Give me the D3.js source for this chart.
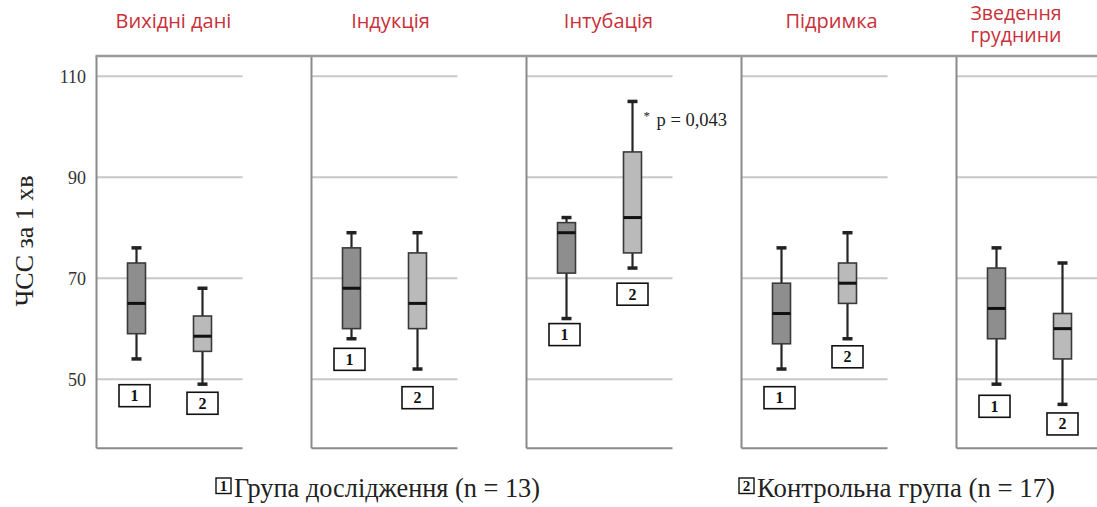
<!DOCTYPE html>
<html>
<head>
<meta charset="utf-8">
<script src="https://cdn.jsdelivr.net/npm/d3@7"></script>
<style>
  html, body { margin: 0; padding: 0; background: #fff; }
  svg { display: block; }
</style>
</head>
<body>
<svg id="chart" width="1097" height="507"></svg>
<script>
// Heart rate (beats per minute) by surgical stage, two patient groups
const phases = ["Вихідні дані", "Індукція", "Інтубація", "Підримка", "Зведення груднини"];
const phaseLines = [["Вихідні дані"], ["Індукція"], ["Інтубація"], ["Підримка"], ["Зведення", "груднини"]];
const groupIds = ["1", "2"];
const groupNames = ["Група дослідження (n = 13)", "Контрольна група (n = 17)"];

// [min, Q1, median, Q3, max] for each stage
const studyStats = [
  [54, 59, 65, 73, 76],
  [58, 60, 68, 76, 79],
  [62, 71, 79, 81, 82],
  [52, 57, 63, 69, 76],
  [49, 58, 64, 72, 76]
];
const controlStats = [
  [49, 55.5, 58.5, 62.5, 68],
  [52, 60, 65, 75, 79],
  [72, 75, 82, 95, 105],
  [58, 65, 69, 73, 79],
  [45, 54, 60, 63, 73]
];
const yTicks = [50, 70, 90, 110];
const yTitle = "ЧСС за 1 хв";
const pNote = { phase: 2, group: 1, text: "p = 0,043" };

// layout: level (in bpm) at which each group tag sits under its box
const tagLevel = [
  [48.9, 56.1, 61, 48.5, 46.8],
  [47.4, 48.5, 69, 56.6, 43.3]
];
const titleCenters = [173.5, 390.5, 608.5, 831.5, 1016];

const svg = d3.select("#chart");
const serif = "'Liberation Serif', 'Times New Roman', serif";

const panelW = 146;
const x = d3.scaleBand().domain(phases).range([96.5, 96.5 + 215 * 5]).padding(0);
const xg = d3.scalePoint().domain(groupIds).range([40, 106]);
const y = d3.scaleLinear().domain([36.3, 114]).range([448.3, 56]);

const fills = ["#8e8e8e", "#bababa"];
const stats = [studyStats, controlStats];

// panels: gridlines, left rule and base rule
const panel = svg.selectAll("g.panel").data(phases).join("g")
  .attr("class", "panel")
  .attr("transform", d => `translate(${x(d)},0)`);

panel.selectAll("line.grid").data(yTicks).join("line")
  .attr("class", "grid")
  .attr("x1", 0).attr("x2", panelW)
  .attr("y1", d => y(d)).attr("y2", d => y(d))
  .attr("stroke", "#c8c8c8").attr("stroke-width", 2);

panel.append("line")
  .attr("x1", 0).attr("x2", 0)
  .attr("y1", y.range()[1]).attr("y2", y.range()[0])
  .attr("stroke", "#8a8a8a").attr("stroke-width", 2);

panel.append("line")
  .attr("x1", 0).attr("x2", panelW)
  .attr("y1", y.range()[0]).attr("y2", y.range()[0])
  .attr("stroke", "#8a8a8a").attr("stroke-width", 2);

svg.append("line")
  .attr("x1", x.range()[0] - 1).attr("x2", 1097)
  .attr("y1", y.range()[1]).attr("y2", y.range()[1])
  .attr("stroke", "#9a9a9a").attr("stroke-width", 2.5);

// y axis labels
const yAxis = d3.axisLeft(y).tickValues(yTicks).tickSize(0).tickPadding(0);
const ya = svg.append("g").attr("transform", "translate(86,0)").call(yAxis);
ya.select(".domain").remove();
ya.selectAll("text")
  .attr("font-family", serif).attr("font-size", 18).attr("fill", "#333")
  .attr("dy", "0.34em");

svg.append("text")
  .attr("transform", "translate(33,241) rotate(-90)")
  .attr("text-anchor", "middle")
  .attr("font-family", serif).attr("font-size", 26).attr("fill", "#222")
  .text(yTitle);

// stage titles (one text element per line)
phaseLines.forEach((lines, i) => {
  const base = lines.length === 1 ? [27.7] : [20, 42];
  lines.forEach((line, li) => {
    svg.append("text")
      .attr("x", titleCenters[i]).attr("y", base[li])
      .attr("text-anchor", "middle")
      .attr("font-family", "'Open Sans', 'Noto Sans', sans-serif")
      .attr("font-size", lines.length === 1 ? 20 : 19.5).attr("fill", "#c8303a")
      .text(line);
  });
});

// box plots
const boxW = 18, capW = 10;
groupIds.forEach((gid, gi) => {
  stats[gi].forEach((s, pi) => {
    const [mn, q1, md, q3, mx] = s;
    const cx = x(phases[pi]) + xg(gid);
    const g = svg.append("g");
    g.append("line").attr("x1", cx).attr("x2", cx).attr("y1", y(mx)).attr("y2", y(q3))
      .attr("stroke", "#262626").attr("stroke-width", 2.2);
    g.append("line").attr("x1", cx).attr("x2", cx).attr("y1", y(q1)).attr("y2", y(mn))
      .attr("stroke", "#262626").attr("stroke-width", 2.2);
    [mn, mx].forEach(v => {
      g.append("line").attr("x1", cx - capW / 2).attr("x2", cx + capW / 2)
        .attr("y1", y(v)).attr("y2", y(v))
        .attr("stroke", "#222").attr("stroke-width", 3.5);
    });
    g.append("rect")
      .attr("x", cx - boxW / 2).attr("width", boxW)
      .attr("y", y(q3)).attr("height", y(q1) - y(q3))
      .attr("fill", fills[gi]).attr("stroke", "#3a3a3a").attr("stroke-width", 1.6);
    g.append("line").attr("x1", cx - boxW / 2).attr("x2", cx + boxW / 2)
      .attr("y1", y(md)).attr("y2", y(md))
      .attr("stroke", "#111").attr("stroke-width", 3);

    // group tag under the box
    const tx = cx - (gi === 0 ? 2 : 0);
    const ty = y(tagLevel[gi][pi]);
    g.append("rect")
      .attr("x", tx - 15.5).attr("y", ty).attr("width", 31).attr("height", 22)
      .attr("fill", "#fff").attr("stroke", "#111").attr("stroke-width", 1.6);
    g.append("text")
      .attr("x", tx).attr("y", ty + 16.5).attr("text-anchor", "middle")
      .attr("font-family", serif).attr("font-weight", "bold").attr("font-size", 16)
      .attr("fill", "#111").text(gid);
  });
});

// significance note next to the control whisker
{
  const s = stats[pNote.group][pNote.phase];
  const cx = x(phases[pNote.phase]) + xg(groupIds[pNote.group]);
  const ny = y(s[4]) + 25;
  svg.append("text")
    .attr("x", cx + 11).attr("y", ny - 6)
    .attr("font-family", serif).attr("font-size", 13).attr("fill", "#222").text("*");
  svg.append("text")
    .attr("x", cx + 24).attr("y", ny)
    .attr("font-family", serif).attr("font-size", 18.5).attr("fill", "#222").text(pNote.text);
}

// legend
const legendPos = [{ bx: 216, tx: 234, len: 306 }, { bx: 739, tx: 757, len: 298 }];
groupIds.forEach((gid, gi) => {
  const L = legendPos[gi];
  svg.append("rect")
    .attr("x", L.bx).attr("y", 478).attr("width", 15).attr("height", 15.5)
    .attr("fill", "#fff").attr("stroke", "#111").attr("stroke-width", 1.4);
  svg.append("text")
    .attr("x", L.bx + 7.5).attr("y", 491).attr("text-anchor", "middle")
    .attr("font-family", serif).attr("font-weight", "bold").attr("font-size", 15)
    .attr("fill", "#111").text(gid);
  svg.append("text")
    .attr("x", L.tx).attr("y", 497)
    .attr("font-family", serif).attr("font-size", 27).attr("fill", "#222")
    .attr("textLength", L.len).attr("lengthAdjust", "spacingAndGlyphs")
    .text(groupNames[gi]);
});
</script>
</body>
</html>
